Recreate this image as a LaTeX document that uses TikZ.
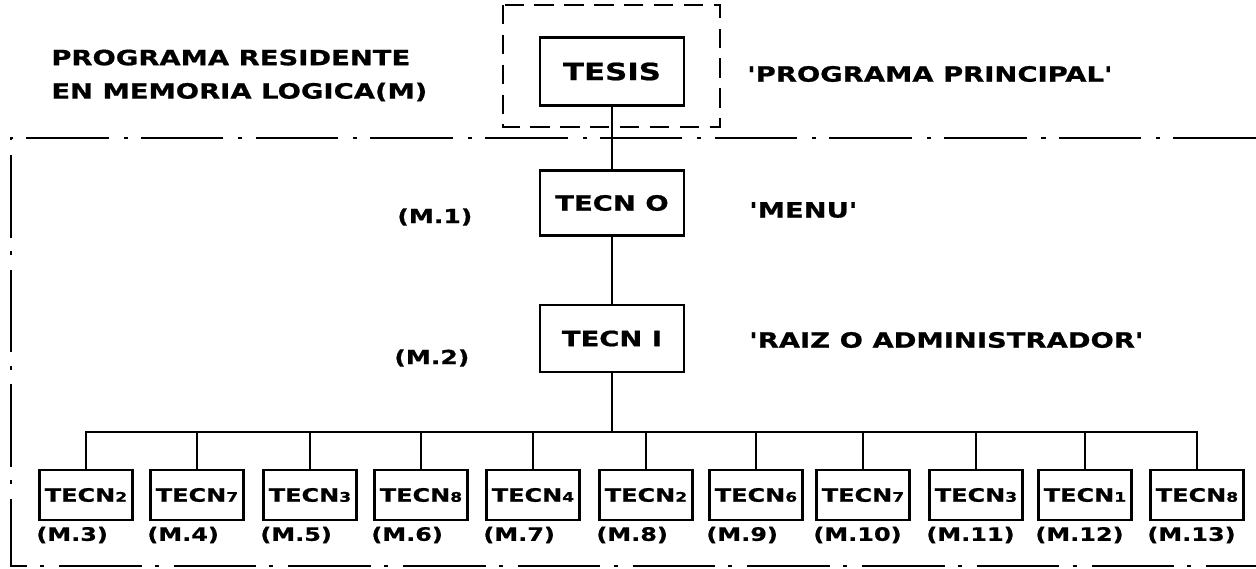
\documentclass[tikz,border=0pt]{standalone}
\usepackage{fontspec}
\newfontfamily\xf{DejaVu Sans Bold}[FakeStretch=1.3, FakeBold=0.8, Ligatures=TeXOff]
\usetikzlibrary{positioning}
\newcommand\dg[1]{{\fontsize{7.5}{8}\selectfont#1}}

\begin{document}
\begin{tikzpicture}[x=0.02cm, y=-0.02cm,
      every node/.style={inner sep=0pt, font=\xf\fontsize{12}{14}\selectfont},
      bx/.style={rectangle, draw, line width=1.5pt},
      tb/.style={bx, minimum width=1.86cm, minimum height=1cm,
                 font=\xf\fontsize{10.5}{12}\selectfont},
      lb/.style={anchor=west},
      ml/.style={anchor=west, font=\xf\fontsize{10.5}{12}\selectfont},
      ed/.style={line width=1pt},
      fr/.style={line width=1.2pt, dash pattern=on 47pt off 7.5pt on 2.3pt off 8.5pt},
      grp/.style={line width=1.2pt, dash pattern=on 11pt off 6pt}
    ]
    \useasboundingbox (0,0) rectangle (1256,568);
    % memory frame (dash-dot)
    \draw[fr] (1256,138) -- (11,138) -- (11,566) -- (1256,566);
    % main program
    \draw[grp] (503,5) rectangle (720,127);
    \node[bx, minimum width=2.88cm, minimum height=1.36cm,
          font=\xf\fontsize{13.5}{15}\selectfont] (tesis) at (612,71.5) {TESIS};
    \node[lb, align=left, font=\xf\fontsize{12}{19}\selectfont] (res) at (51,75.5)
      {PROGRAMA RESIDENTE\\EN MEMORIA LOGICA(M)};
    \node[lb] (ppal) at (747,74) {'PROGRAMA PRINCIPAL'};
    % level 1: menu
    \node[bx, minimum width=2.88cm, minimum height=1.3cm] (t0) at (612,203) {TECN O};
    \node[ml, font=\xf\fontsize{11}{12}\selectfont] (m1) at (397,217) {(M.1)};
    \node[lb] (menu) at (749,210) {'MENU'};
    % level 2: root
    \node[bx, minimum width=2.88cm, minimum height=1.34cm] (t1) at (612,338.5) {TECN I};
    \node[ml, font=\xf\fontsize{11}{12}\selectfont] (m2) at (394,358) {(M.2)};
    \node[lb] (raiz) at (749,340) {'RAIZ O ADMINISTRADOR'};
    % level 3: modules
    \node[tb] (b1) at (86,495) {TECN\dg{2}};
    \node[tb] (b2) at (197,495) {TECN\dg{7}};
    \node[tb] (b3) at (310,495) {TECN\dg{3}};
    \node[tb] (b4) at (421,495) {TECN\dg{8}};
    \node[tb] (b5) at (533,495) {TECN\dg{4}};
    \node[tb] (b6) at (646,495) {TECN\dg{2}};
    \node[tb] (b7) at (756,495) {TECN\dg{6}};
    \node[tb] (b8) at (863,495) {TECN\dg{7}};
    \node[tb] (b9) at (976,495) {TECN\dg{3}};
    \node[tb] (b10) at (1085,495) {TECN\dg{1}};
    \node[tb] (b11) at (1197,495) {TECN\dg{8}};
    % memory labels
    \node[ml] (l1) at (36,535) {(M.3)};
    \node[ml] (l2) at (147,535) {(M.4)};
    \node[ml] (l3) at (260,535) {(M.5)};
    \node[ml] (l4) at (371,535) {(M.6)};
    \node[ml] (l5) at (483,535) {(M.7)};
    \node[ml] (l6) at (596,535) {(M.8)};
    \node[ml] (l7) at (706,535) {(M.9)};
    \node[ml] (l8) at (813,535) {(M.10)};
    \node[ml] (l9) at (926,535) {(M.11)};
    \node[ml] (l10) at (1035,535) {(M.12)};
    \node[ml] (l11) at (1147,535) {(M.13)};
    % edges
    \coordinate (bus) at (612,432);
    \draw[ed] (tesis) -- (t0); \draw[ed] (t0) -- (t1); \draw[ed] (t1) -- (bus);
    \draw[ed] (b1.north) |- (bus) -| (b11.north);
    \draw[ed] (b2.north) -- (b2.north |- bus); \draw[ed] (b3.north) -- (b3.north |- bus);
    \draw[ed] (b4.north) -- (b4.north |- bus); \draw[ed] (b5.north) -- (b5.north |- bus);
    \draw[ed] (b6.north) -- (b6.north |- bus); \draw[ed] (b7.north) -- (b7.north |- bus);
    \draw[ed] (b8.north) -- (b8.north |- bus); \draw[ed] (b9.north) -- (b9.north |- bus);
    \draw[ed] (b10.north) -- (b10.north |- bus);
  \end{tikzpicture}
\end{document}
